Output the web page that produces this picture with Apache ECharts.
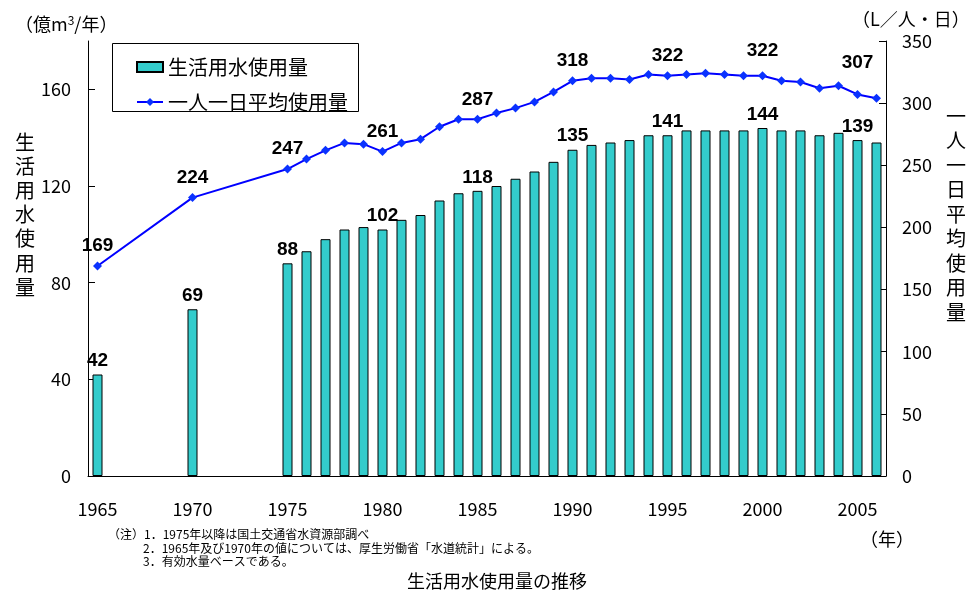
<!DOCTYPE html>
<html>
<head>
<meta charset="utf-8">
<script src="https://cdn.jsdelivr.net/npm/echarts@6/dist/echarts.min.js"></script>
<style>
html,body{margin:0;padding:0;background:#fff;}
#c{width:972px;height:599px;}
</style>
</head>
<body>
<div id="c"></div>
<script>
// ---- data ----
var years = [1965,1966,1967,1968,1969,1970,1971,1972,1973,1974,1975,1976,1977,1978,1979,1980,1981,1982,1983,1984,1985,1986,1987,1988,1989,1990,1991,1992,1993,1994,1995,1996,1997,1998,1999,2000,2001,2002,2003,2004,2005,2006];
var waterUse = [42,null,null,null,null,69,null,null,null,null,88,93,98,102,103,102,106,108,114,117,118,120,123,126,130,135,137,138,139,141,141,143,143,143,143,144,143,143,141,142,139,138];
var perCapita = [169,null,null,null,null,224,null,null,null,null,247,255,262,268,267,261,268,271,281,287,287,292,296,301,309,318,320,320,319,323,322,323,324,323,322,322,318,317,312,314,307,304];
var labeledYears = [1965,1970,1975,1980,1985,1990,1995,2000,2005];
var xTickYears = [1965,1970,1975,1980,1985,1990,1995,2000,2005];
var leftTicks = [0,40,80,120,160];
var rightTicks = [0,50,100,150,200,250,300,350];
var seriesNames = ['生活用水使用量','一人一日平均使用量'];
var notes = ['（注）1．1975年以降は国土交通省水資源部調べ','2．1965年及び1970年の値については、厚生労働省「水道統計」による。','3．有効水量ベースである。'];

var JP = '"Noto Sans CJK JP","Noto Sans",sans-serif';
var chart = echarts.init(document.getElementById('c'));

var lineLabelExtra = {2000: 5, 2005: 12};

var lineData = perCapita.map(function(v, i){
  var y = years[i];
  var d = {value: v};
  if (lineLabelExtra[y]) d.label = {distance: 6 + lineLabelExtra[y]};
  return d;
});

var option = {
  animation: false,
  backgroundColor: '#fff',
  grid: {left: 88, right: 86, top: 41, bottom: 123},
  legend: {
    left: 131, top: 52, orient: 'vertical',
    itemWidth: 26, itemHeight: 10, itemGap: 15,
    textStyle: {fontFamily: JP, fontSize: 20, color: '#000', lineHeight: 20},
    data: [{name: seriesNames[0], icon: 'rect'}, {name: seriesNames[1]}]
  },
  xAxis: {
    type: 'category', data: years, boundaryGap: true,
    axisLine: {lineStyle: {color: '#000', width: 1}},
    axisTick: {inside: true, length: 7, interval: 0, lineStyle: {color: '#000'}},
    axisLabel: {
      interval: function(i, v){ return xTickYears.indexOf(+v) >= 0; },
      margin: 24, color: '#000', fontFamily: JP, fontSize: 18
    },
    splitLine: {show: false}
  },
  yAxis: [{
    type: 'value', min: 0, max: 180, interval: 40, position: 'left',
    axisLine: {show: true, lineStyle: {color: '#000'}},
    axisTick: {show: true, inside: true, length: 7, lineStyle: {color: '#000'}, customValues: leftTicks},
    axisLabel: {color: '#000', fontFamily: JP, fontSize: 18, margin: 17, customValues: leftTicks},
    splitLine: {show: false}
  }, {
    type: 'value', min: 0, max: 350, interval: 50, position: 'right',
    axisLine: {show: true, lineStyle: {color: '#000'}},
    axisTick: {show: true, inside: true, length: 7, lineStyle: {color: '#000'}, customValues: rightTicks},
    axisLabel: {color: '#000', fontFamily: JP, fontSize: 18, margin: 16, customValues: rightTicks},
    splitLine: {show: false}
  }],
  series: [{
    name: seriesNames[0], type: 'bar', yAxisIndex: 0,
    data: waterUse, barWidth: 10,
    itemStyle: {color: '#33CCCC', borderColor: '#000', borderWidth: 1},
    label: {
      show: true, position: 'top', distance: 4,
      color: '#000', fontFamily: '"Liberation Sans",Arial,sans-serif', fontWeight: 'bold', fontSize: 19,
      formatter: function(p){ return labeledYears.indexOf(years[p.dataIndex]) >= 0 ? p.value : ''; }
    },
    z: 2
  }, {
    name: seriesNames[1], type: 'line', yAxisIndex: 1,
    data: lineData, connectNulls: true,
    symbol: 'diamond', symbolSize: 9,
    lineStyle: {color: '#0000FF', width: 2},
    itemStyle: {color: '#0A32FF'},
    label: {
      show: true, position: 'top', distance: 6,
      color: '#000', fontFamily: '"Liberation Sans",Arial,sans-serif', fontWeight: 'bold', fontSize: 19,
      formatter: function(p){ return labeledYears.indexOf(years[p.dataIndex]) >= 0 ? p.value : ''; }
    },
    z: 3
  }],
  graphic: [
    {type: 'rect', left: 110, top: 41, shape: {width: 246, height: 68}, style: {fill: 'none', stroke: '#000', lineWidth: 1}, z: 1},
    {type: 'text', left: 15, top: 14, style: {
      text: '（億m{sup|3}/年）', fontFamily: JP, fontSize: 18, fill: '#000',
      rich: {sup: {fontSize: 12, verticalAlign: 'top', padding: [0,0,8,0], fontFamily: JP}}
    }},
    {type: 'text', left: 852, top: 10, style: {text: '（L／人・日）', fontFamily: JP, fontSize: 18, fill: '#000'}},
    {type: 'text', left: 15, top: 130, style: {text: '生\n活\n用\n水\n使\n用\n量', fontFamily: JP, fontSize: 20, lineHeight: 24.2, fill: '#000'}},
    {type: 'text', left: 946, top: 104, style: {text: '一\n人\n一\n日\n平\n均\n使\n用\n量', fontFamily: JP, fontSize: 20, lineHeight: 24.5, fill: '#000'}},
    {type: 'text', left: 860, top: 530, style: {text: '（年）', fontFamily: JP, fontSize: 18, fill: '#000'}},
    {type: 'text', left: 108, top: 528, style: {text: notes[0], fontFamily: JP, fontSize: 12, fill: '#000'}},
    {type: 'text', left: 143, top: 542, style: {text: notes[1], fontFamily: JP, fontSize: 12, fill: '#000'}},
    {type: 'text', left: 143, top: 555, style: {text: notes[2], fontFamily: JP, fontSize: 12, fill: '#000'}},
    {type: 'text', left: 407, top: 572, style: {text: '生活用水使用量の推移', fontFamily: JP, fontSize: 18, fill: '#000'}}
  ]
};
chart.setOption(option);
</script>
</body>
</html>
